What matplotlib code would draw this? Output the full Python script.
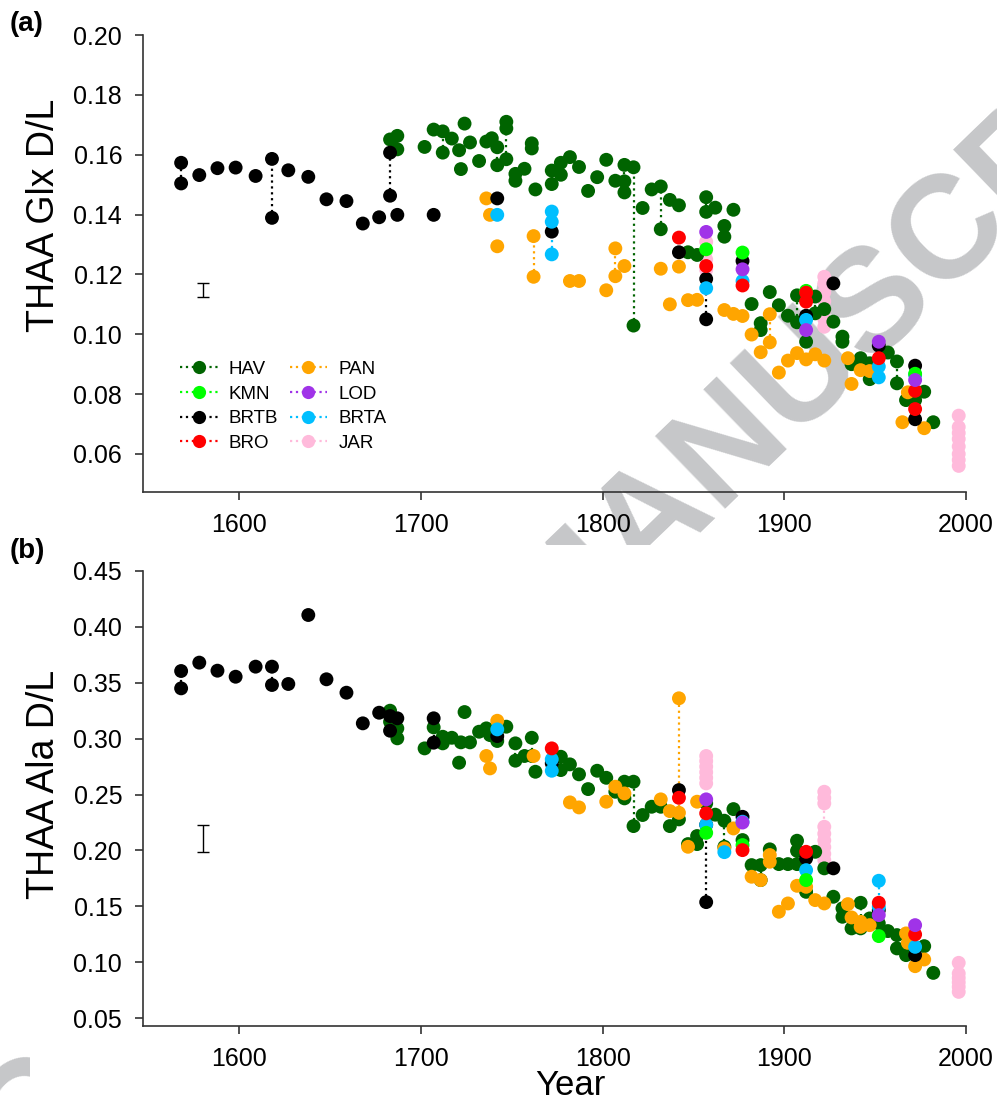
import numpy as np
import matplotlib
matplotlib.use("Agg")
import matplotlib.pyplot as plt
from matplotlib.lines import Line2D
from matplotlib.patches import Rectangle

plt.rcParams['font.family'] = ['Liberation Sans', 'DejaVu Sans']

# ---- colours / sites
sites = ["HAV", "KMN", "BRTB", "BRO", "PAN", "LOD", "BRTA", "JAR"]
colors = {"HAV": "#006400", "KMN": "#00FF00", "BRTB": "#000000", "BRO": "#FF0000",
          "PAN": "#FFA500", "LOD": "#A033E8", "BRTA": "#00BFFF", "JAR": "#FFBADB"}

# ---- (a) THAA Glx D/L
hav_glx_year = [1683, 1687, 1687, 1702, 1707, 1712, 1712, 1717, 1721, 1722, 1724, 1727, 1732, 1736,
                1739, 1742, 1742, 1747, 1747, 1747, 1752, 1752, 1757, 1761, 1761, 1763, 1772, 1772,
                1777, 1777, 1782, 1787, 1792, 1797, 1802, 1807, 1812, 1812, 1812, 1817, 1817, 1822,
                1827, 1832, 1832, 1837, 1842, 1847, 1852, 1857, 1857, 1862, 1867, 1867, 1872, 1882,
                1887, 1887, 1892, 1897, 1902, 1907, 1907, 1912, 1917, 1917, 1922, 1927, 1932, 1932,
                1937, 1942, 1947, 1947, 1957, 1962, 1962, 1967, 1972, 1977, 1982]
hav_glx = [0.1651, 0.1663, 0.1618, 0.1626, 0.1684, 0.1678, 0.1607, 0.1654, 0.1615, 0.1552, 0.1704,
           0.1641, 0.1579, 0.1644, 0.1655, 0.1625, 0.1565, 0.1710, 0.1688, 0.1585, 0.1536, 0.1513,
           0.1553, 0.1638, 0.1621, 0.1484, 0.1547, 0.1502, 0.1573, 0.1533, 0.1592, 0.1559, 0.1479,
           0.1525, 0.1583, 0.1513, 0.1566, 0.1511, 0.1474, 0.1558, 0.1029, 0.1422, 0.1484, 0.1494,
           0.1351, 0.1449, 0.1431, 0.1274, 0.1265, 0.1458, 0.1409, 0.1423, 0.1362, 0.1326, 0.1416,
           0.1101, 0.1037, 0.1014, 0.1141, 0.1097, 0.1062, 0.1130, 0.1040, 0.0975, 0.1126, 0.1070,
           0.1084, 0.1042, 0.0992, 0.0975, 0.0900, 0.0920, 0.0903, 0.0850, 0.0939, 0.0909, 0.0836,
           0.0780, 0.0780, 0.0808, 0.0706]

pan_glx_year = [1736, 1738, 1742, 1762, 1762, 1782, 1787, 1802, 1807, 1807, 1812, 1832, 1837, 1842,
                1847, 1852, 1867, 1872, 1877, 1882, 1887, 1892, 1892, 1897, 1902, 1907, 1912, 1917,
                1922, 1935, 1937, 1942, 1947, 1965, 1968, 1977]
pan_glx = [0.1454, 0.1399, 0.1294, 0.1328, 0.1192, 0.1178, 0.1178, 0.1147, 0.1287, 0.1194, 0.1228,
           0.1219, 0.1100, 0.1226, 0.1114, 0.1115, 0.1081, 0.1068, 0.1061, 0.0999, 0.0940, 0.1067,
           0.0973, 0.0872, 0.0912, 0.0937, 0.0916, 0.0933, 0.0912, 0.0920, 0.0834, 0.0880, 0.0877,
           0.0706, 0.0806, 0.0686]

brtb_glx_year = [1568, 1568, 1578, 1588, 1598, 1609, 1618, 1618, 1627, 1638, 1648, 1659, 1668, 1677,
                 1683, 1683, 1687, 1707, 1742, 1772, 1842, 1857, 1857, 1877, 1912, 1927, 1952, 1972,
                 1972]
brtb_glx = [0.1573, 0.1504, 0.1532, 0.1555, 0.1557, 0.1529, 0.1586, 0.1389, 0.1548, 0.1526, 0.1451,
            0.1445, 0.1370, 0.1391, 0.1607, 0.1463, 0.1399, 0.1399, 0.1454, 0.1343, 0.1274, 0.1185,
            0.1050, 0.1245, 0.1062, 0.1170, 0.0962, 0.0895, 0.0716]

brta_glx_year = [1742, 1772, 1772, 1772, 1857, 1877, 1912, 1952, 1952, 1972]
brta_glx = [0.1399, 0.1410, 0.1376, 0.1267, 0.1154, 0.1178, 0.1048, 0.0892, 0.0856, 0.0864]

bro_glx_year = [1842, 1857, 1877, 1912, 1912, 1952, 1972, 1972]
bro_glx = [0.1323, 0.1228, 0.1163, 0.1139, 0.1109, 0.0920, 0.0811, 0.0750]

kmn_glx_year = [1857, 1877, 1912, 1972]
kmn_glx = [0.1284, 0.1273, 0.1145, 0.0868]

lod_glx_year = [1857, 1877, 1912, 1952, 1972]
lod_glx = [0.1342, 0.1217, 0.1014, 0.0975, 0.0847]

jar_glx_year = [1857, 1857, 1857, 1857, 1922, 1922, 1922, 1922, 1922, 1922, 1922,
                1996, 1996, 1996, 1996, 1996, 1996, 1996, 1996]
jar_glx = [0.1309, 0.1280, 0.1250, 0.1215, 0.1192, 0.1170, 0.1140, 0.1110, 0.1080, 0.1050, 0.1025,
           0.0728, 0.0690, 0.0670, 0.0650, 0.0625, 0.0600, 0.0580, 0.0560]

# ---- (b) THAA Ala D/L
hav_ala_year = [1683, 1683, 1687, 1687, 1702, 1707, 1712, 1712, 1717, 1721, 1722, 1724, 1727, 1732,
                1736, 1738, 1742, 1747, 1752, 1752, 1757, 1761, 1761, 1763, 1777, 1777, 1782, 1787,
                1792, 1797, 1802, 1807, 1812, 1812, 1817, 1817, 1822, 1827, 1832, 1837, 1842, 1847,
                1852, 1852, 1857, 1862, 1867, 1867, 1872, 1877, 1882, 1887, 1887, 1892, 1897, 1902,
                1907, 1907, 1907, 1912, 1917, 1922, 1927, 1932, 1932, 1937, 1942, 1942, 1947, 1952,
                1957, 1962, 1962, 1967, 1977, 1982]
hav_ala = [0.3250, 0.3151, 0.3092, 0.3003, 0.2913, 0.3101, 0.3017, 0.2958, 0.3008, 0.2785, 0.2967,
           0.3238, 0.2967, 0.3062, 0.3092, 0.3032, 0.2979, 0.3107, 0.2958, 0.2803, 0.2845, 0.3008,
           0.2845, 0.2704, 0.2838, 0.2719, 0.2770, 0.2681, 0.2549, 0.2713, 0.2650, 0.2525, 0.2615,
           0.2466, 0.2615, 0.2218, 0.2317, 0.2391, 0.2391, 0.2218, 0.2278, 0.2057, 0.2129, 0.2057,
           0.2421, 0.2320, 0.2266, 0.2033, 0.2370, 0.2093, 0.1869, 0.1869, 0.1735, 0.2010, 0.1878,
           0.1878, 0.2087, 0.1997, 0.1878, 0.1630, 0.1988, 0.1840, 0.1586, 0.1482, 0.1407, 0.1303,
           0.1532, 0.1303, 0.1392, 0.1348, 0.1279, 0.1243, 0.1124, 0.1064, 0.1144, 0.0905]

pan_ala_year = [1736, 1738, 1742, 1762, 1782, 1787, 1802, 1807, 1812, 1832, 1837, 1842, 1842, 1847,
                1852, 1867, 1872, 1882, 1887, 1892, 1892, 1897, 1902, 1907, 1912, 1917, 1922, 1935,
                1937, 1942, 1942, 1947, 1967, 1968, 1972, 1977]
pan_ala = [0.2845, 0.2734, 0.3160, 0.2845, 0.2430, 0.2385, 0.2436, 0.2570, 0.2510, 0.2457, 0.2352,
           0.3361, 0.2337, 0.2033, 0.2436, 0.2019, 0.2197, 0.1765, 0.1735, 0.1959, 0.1899, 0.1452,
           0.1526, 0.1684, 0.1675, 0.1556, 0.1526, 0.1520, 0.1401, 0.1362, 0.1317, 0.1332, 0.1258,
           0.1174, 0.0965, 0.1025]

brtb_ala_year = [1568, 1568, 1578, 1588, 1598, 1609, 1618, 1618, 1627, 1638, 1648, 1659, 1668, 1677,
                 1683, 1683, 1687, 1707, 1707, 1742, 1772, 1842, 1857, 1857, 1877, 1912, 1927, 1952,
                 1972]
brtb_ala = [0.3605, 0.3450, 0.3680, 0.3608, 0.3554, 0.3644, 0.3644, 0.3480, 0.3489, 0.4106, 0.3531,
            0.3411, 0.3137, 0.3232, 0.3202, 0.3071, 0.3182, 0.3182, 0.2964, 0.3023, 0.2779, 0.2540,
            0.2230, 0.1538, 0.2301, 0.1929, 0.1840, 0.1466, 0.1064]

brta_ala_year = [1742, 1772, 1772, 1857, 1867, 1877, 1912, 1952, 1952, 1972]
brta_ala = [0.3083, 0.2815, 0.2713, 0.2230, 0.1985, 0.2257, 0.1824, 0.1729, 0.1496, 0.1138]

bro_ala_year = [1772, 1842, 1857, 1877, 1912, 1952, 1972]
bro_ala = [0.2913, 0.2471, 0.2332, 0.2003, 0.1988, 0.1532, 0.1249]

kmn_ala_year = [1857, 1877, 1912, 1952]
kmn_ala = [0.2158, 0.2048, 0.1735, 0.1234]

lod_ala_year = [1857, 1877, 1952, 1972]
lod_ala = [0.2457, 0.2250, 0.1422, 0.1332]

jar_ala_year = [1857, 1857, 1857, 1857, 1857, 1857, 1922, 1922, 1922, 1922, 1922, 1922, 1922, 1922,
                1922, 1996, 1996, 1996, 1996, 1996, 1996]
jar_ala = [0.2845, 0.2800, 0.2750, 0.2700, 0.2650, 0.2600, 0.2525, 0.2470, 0.2421, 0.2212, 0.2150,
           0.2090, 0.2030, 0.1970, 0.1914, 0.0995, 0.0900, 0.0860, 0.0820, 0.0780, 0.0735]

# analytical error bars (year, centre, half-range)
err_glx = (1580, 0.1148, 0.0023)
err_ala = (1580, 0.2106, 0.0120)

glx_data = {"JAR": (jar_glx_year, jar_glx), "HAV": (hav_glx_year, hav_glx),
            "PAN": (pan_glx_year, pan_glx), "BRTB": (brtb_glx_year, brtb_glx),
            "BRTA": (brta_glx_year, brta_glx), "KMN": (kmn_glx_year, kmn_glx),
            "BRO": (bro_glx_year, bro_glx), "LOD": (lod_glx_year, lod_glx)}
ala_data = {"JAR": (jar_ala_year, jar_ala), "HAV": (hav_ala_year, hav_ala),
            "PAN": (pan_ala_year, pan_ala), "BRTB": (brtb_ala_year, brtb_ala),
            "BRTA": (brta_ala_year, brta_ala), "KMN": (kmn_ala_year, kmn_ala),
            "BRO": (bro_ala_year, bro_ala), "LOD": (lod_ala_year, lod_ala)}


def plot_site(ax, years, vals, color):
    years = np.array(years)
    vals = np.array(vals)
    # dotted line joining replicate samples of the same year
    for yr in np.unique(years):
        v = vals[years == yr]
        if len(v) > 1:
            ax.vlines(yr, v.min(), v.max(), colors=color, linestyles=':', lw=1.6, zorder=2)
    ax.scatter(years, vals, s=100, color=color, edgecolors='none', zorder=3)


def style_axis(ax, ylim, yticks):
    ax.set_xlim(1547, 2000)
    ax.set_ylim(*ylim)
    ax.set_xticks([1600, 1700, 1800, 1900, 2000])
    ax.set_yticks(yticks)
    ax.yaxis.set_major_formatter(plt.FormatStrFormatter('%.2f'))
    for s in ['top', 'right']:
        ax.spines[s].set_visible(False)
    for s in ['left', 'bottom']:
        ax.spines[s].set_color('#333333')
        ax.spines[s].set_linewidth(1.2)
    ax.spines['left'].set_bounds(ylim[0], yticks[-1])
    ax.tick_params(direction='out', length=6, width=1.2, color='#333333', labelsize=18)
    ax.tick_params(axis='y', pad=9)
    ax.tick_params(axis='x', pad=9)


fig = plt.figure(figsize=(9.97, 11.05), dpi=100)

# watermark behind the panels
fig.text(0.578, 0.457, "ACCEPTED MANUSCRIPT", fontsize=105, fontweight='bold',
         color='#C6C7C9', rotation=44, ha='center', va='center',
         rotation_mode='anchor', zorder=-2)
fig.patches.append(Rectangle((0.03, 0.0), 0.97, 0.507, transform=fig.transFigure,
                             facecolor='white', edgecolor='none', zorder=-1))

ax1 = fig.add_axes([0.1434, 0.5548, 0.8255, 0.4135])
ax2 = fig.add_axes([0.1434, 0.0715, 0.8255, 0.4118])
ax1.patch.set_alpha(0)

for site, (yr, v) in glx_data.items():
    plot_site(ax1, yr, v, colors[site])
for site, (yr, v) in ala_data.items():
    plot_site(ax2, yr, v, colors[site])

ax1.errorbar(err_glx[0], err_glx[1], yerr=err_glx[2], color='black', capsize=4, lw=1)
ax2.errorbar(err_ala[0], err_ala[1], yerr=err_ala[2], color='black', capsize=4, lw=1)

style_axis(ax1, (0.0473, 0.20), np.arange(0.06, 0.2001, 0.02))
style_axis(ax2, (0.043, 0.45), np.arange(0.05, 0.4501, 0.05))

ax1.set_ylabel("THAA Glx D/L", fontsize=27)
ax1.yaxis.set_label_coords(-0.098, 0.606)
ax2.set_ylabel("THAA Ala D/L", fontsize=27)
ax2.yaxis.set_label_coords(-0.098, 0.53)
ax2.set_xlabel("Year", fontsize=25)
ax2.xaxis.set_label_coords(0.519, -0.095)

fig.text(0.01, 0.99, "(a)", fontsize=20, fontweight='bold', va='top')
fig.text(0.01, 0.513, "(b)", fontsize=20, fontweight='bold', va='top')

handles = [Line2D([0], [0], color=colors[s], ls=':', lw=1.6, marker='o', markersize=9.5,
                  markeredgecolor='none') for s in sites]
ax1.legend(handles, sites, loc='upper left', bbox_to_anchor=(0.045, 0.287), ncol=2,
           frameon=False, fontsize=13.5, borderpad=0, borderaxespad=0, handlelength=2.0,
           handletextpad=0.6, labelspacing=0.4, columnspacing=0.6)

fig.savefig("out.png", dpi=100)
